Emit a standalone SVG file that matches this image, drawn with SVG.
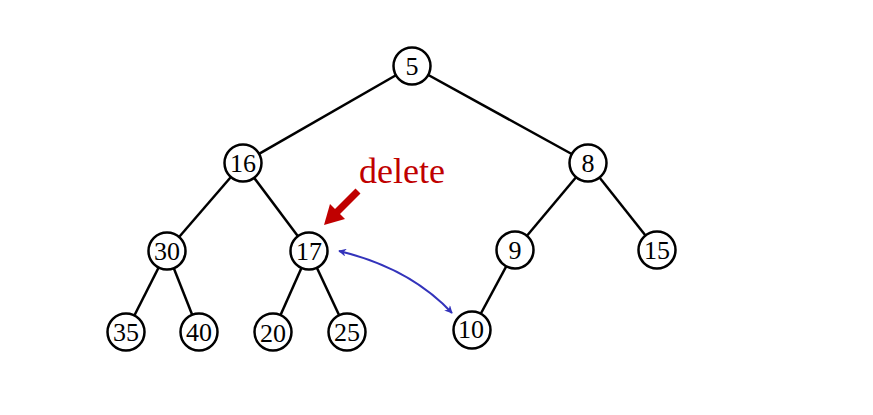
<svg xmlns="http://www.w3.org/2000/svg" width="873" height="415" viewBox="0 0 873 415">
<style>
.n circle{fill:#fff;stroke:#000;stroke-width:2.5}
.n text{font-family:"Liberation Serif",serif;font-size:26px;text-anchor:middle;fill:#000}
.e line{stroke:#000;stroke-width:2.5}
</style>
<defs>
<marker id="bh" viewBox="0 0 10 10" refX="9" refY="5" markerWidth="8" markerHeight="8" markerUnits="userSpaceOnUse" orient="auto-start-reverse"><path d="M0,0 L10,5 L0,10 L3,5 Z" fill="#3333bb"/></marker>
</defs>
<rect width="873" height="415" fill="#fff"/>
<g id="connectors" class="e">
<line x1="412" y1="66" x2="243" y2="163"/>
<line x1="412" y1="66" x2="588" y2="163"/>
<line x1="243" y1="163" x2="167" y2="251"/>
<line x1="243" y1="163" x2="309" y2="251"/>
<line x1="588" y1="163" x2="515" y2="250"/>
<line x1="588" y1="163" x2="657" y2="250"/>
<line x1="167" y1="251" x2="126" y2="332"/>
<line x1="167" y1="251" x2="199" y2="332"/>
<line x1="309" y1="251" x2="273" y2="332"/>
<line x1="309" y1="251" x2="347" y2="332"/>
<line x1="515" y1="250" x2="472" y2="330"/>
</g>
<g id="n5" class="n"><circle cx="412" cy="66" r="18.5"/><text x="412" y="75">5</text></g>
<g id="n16" class="n"><circle cx="243" cy="163" r="18.5"/><text x="243" y="172">16</text></g>
<g id="n8" class="n"><circle cx="588" cy="163" r="18.5"/><text x="588" y="172">8</text></g>
<g id="n30" class="n"><circle cx="167" cy="251" r="18.5"/><text x="167" y="260">30</text></g>
<g id="n17" class="n"><circle cx="309" cy="251" r="18.5"/><text x="309" y="260">17</text></g>
<g id="n9" class="n"><circle cx="515" cy="250" r="18.5"/><text x="515" y="259">9</text></g>
<g id="n15" class="n"><circle cx="657" cy="250" r="18.5"/><text x="657" y="259">15</text></g>
<g id="n35" class="n"><circle cx="126" cy="332" r="18.5"/><text x="126" y="341">35</text></g>
<g id="n40" class="n"><circle cx="199" cy="332" r="18.5"/><text x="199" y="341">40</text></g>
<g id="n20" class="n"><circle cx="273" cy="332" r="18.5"/><text x="273" y="342">20</text></g>
<g id="n25" class="n"><circle cx="347" cy="332" r="18.5"/><text x="347" y="341">25</text></g>
<g id="n10" class="n"><circle cx="472" cy="330" r="18.5"/><text x="471" y="338">10</text></g>
<g id="swap">
<path d="M339,251 Q410,268 452,313" fill="none" stroke="#3333bb" stroke-width="2" marker-start="url(#bh)" marker-end="url(#bh)"/>
</g>
<g id="delete">
<text x="359" y="183" font-family="Liberation Serif,serif" font-size="36" fill="#c00000">delete</text>
<line x1="358" y1="191" x2="336" y2="213" stroke="#c00000" stroke-width="7"/>
<polygon points="324,225 330,204 345,219" fill="#c00000"/>
</g>
</svg>
